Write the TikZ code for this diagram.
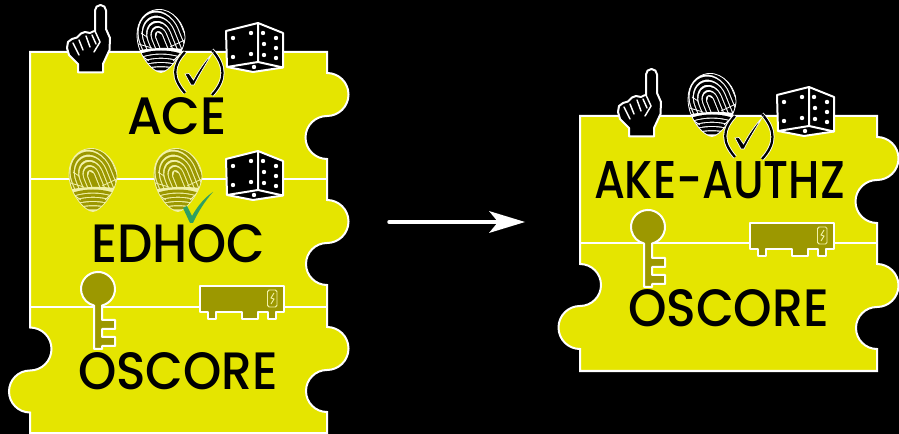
\documentclass[tikz,border=0pt]{standalone}
\usepackage{fontspec}
\setmainfont{Poppins Medium}
\definecolor{puzzle}{HTML}{E5E500}
\definecolor{olive}{HTML}{9C9800}
\definecolor{paleridge}{HTML}{F2F2A8}
\definecolor{okgreen}{HTML}{2F9F62}
\newlength{\pxu}\setlength{\pxu}{0.75pt}
\newcommand{\logotext}[3]{\resizebox{#1\pxu}{#2\pxu}{#3}}
\tikzset{
  x=0.75pt,y=-0.75pt,
  piece/.style={fill=puzzle,draw=white,line width=1.5pt},
  divider/.style={draw=white,line width=1.5pt},
  label/.style={inner sep=0pt,outer sep=0pt,anchor=north west,text=black},
  ridgeblack/.style={draw=black,line width=2.25pt,line cap=butt},
  gapblack/.style={draw=white,line width=0.6pt},
  ridgeolive/.style={draw=olive,line width=2.25pt,line cap=butt},
  gapolive/.style={draw=paleridge,line width=0.6pt},
  iconline/.style={draw=white,line width=1.5pt,line join=round},
  handicon/.pic={
    \draw[iconline,fill=black,line join=round] (95,31) -- (95,10.5) arc[start angle=180,end angle=360,radius=5.5] -- (106,29) -- (110,38) -- (109.5,50) -- (103,64) -- (103,72.5) -- (78,72.5) -- (78,64) -- (69,55) -- (67,48) -- (68,42) -- (72,39) -- (77,37.5) -- (81,33.5) -- (85,32) -- (90,33) -- (93,31.5) -- cycle;
    \draw[white,line width=1.1pt,line cap=round] (73,43) -- (76,49) -- (79,55)
      (79,40) -- (83,50) (86,36) -- (90,47) (92,35) -- (96,44);
    \draw[white,line width=1.1pt,line cap=round] (95,31) -- (100,42) -- (94,52);
  },
  diceicon/.pic={
    \draw[iconline,fill=black] (226,31) -- (258,23) -- (283,33) -- (283,67.5) -- (253,72) -- (227,67) -- cycle;
    \draw[iconline] (258,23) -- (258,62) (227,67) -- (258,62) -- (283,67.5);
    \foreach \px/\py in {233/38,251/33,233/57,251/54,263/33,276/38,264/44,276/48,264/55,276/58,254/67}
      \fill[white] (\px,\py) circle[radius=2.2];
  },
  printicon/.pic={
    \begin{scope}
      \clip (-4,-31.5) .. controls (12,-33) and (24,-16) .. (24,-4) .. controls (24,10) and (8,31.5) .. (0,31.5) .. controls (-8,31.5) and (-24,14) .. (-24,-6) .. controls (-24,-20) and (-16,-30) .. (-4,-31.5);
      \fill[gaplight] (-30,-36) rectangle (30,36);
      \begin{scope}[rotate=22]
        \foreach \r in {1.5,5.7,9.9,14.1,18.3,22.5,26.7}
          \draw[ridge] (-\r,30) -- (-\r,-5) arc[start angle=180,end angle=360,x radius=\r,y radius=1.25*\r] -- (\r,30);
      \end{scope}
      \fill[gaplight] (-30,38) -- (-30,11) .. controls (-10,6) and (10,6) .. (30,9) -- (30,38) -- cycle;
      \foreach \yy in {13.5,17.7,21.9,26.1,30.3}
        \draw[ridge] (-24,\yy+2) .. controls (-8,\yy-4) and (8,\yy-4) .. (24,\yy+2);
      \draw[gap] (-26,2) -- (-9,7);
      \draw[gap] (26,-2) -- (9,6);
      \draw[gap] (-20,-8) -- (-14,-4);
      \draw[gap] (-22,13) -- (-12,20);
      \draw[gap] (22,10) -- (12,20);
    \end{scope}
    \draw[gap] (-4,-31.5) .. controls (12,-33) and (24,-16) .. (24,-4) .. controls (24,10) and (8,31.5) .. (0,31.5) .. controls (-8,31.5) and (-24,14) .. (-24,-6) .. controls (-24,-20) and (-16,-30) .. (-4,-31.5);
  },
  blackprint/.style={ridge/.style=ridgeblack,gap/.style=gapblack,gaplight/.style={fill=white}},
  oliveprint/.style={ridge/.style=ridgeolive,gap/.style=gapolive,gaplight/.style={fill=paleridge}},
  checkicon/.pic={
    \foreach \w/\c in {3/white,1.7/black}{
      \draw[\c,line width=\w pt] (185,52) .. controls (172,66) and (172,78) .. (185,93);
      \draw[\c,line width=\w pt] (212,50) .. controls (226,66) and (226,80) .. (212,95);
    }
    \draw[fill=black,draw=white,line width=0.5pt] (185,74) -- (189,73.5) -- (193.5,80) .. controls (199,70) and (205,61) .. (212,54) .. controls (206,64) and (199,75) .. (194,85) -- (191,85) -- cycle;
  },
  keyicon/.pic={
    \draw[iconline,fill=olive] (102,305.5) arc[start angle=76.4,end angle=-256.4,radius=17] -- (94,349) -- (102,349) -- (102,346) -- (115,346) -- (115,337) -- (102,337) -- (102,329) -- (115,329) -- (115,320) -- (102,320) -- cycle;
  },
  boxicon/.pic={
    \draw[iconline,fill=olive] (200,286) -- (284,286) -- (284,312) -- (276,312) -- (276,319.5) -- (268,319.5) -- (268,312) -- (258,312) -- (258,319.5) -- (242,319.5) -- (242,312) -- (216,312) -- (216,319.5) -- (208,319.5) -- (208,312) -- (200,312) -- cycle;
    \draw[paleridge,line width=0.7pt,rounded corners=1.2pt] (267.5,290) rectangle (277,307);
    \draw[paleridge,line width=0.7pt] (274,293) -- (271,298) -- (274,299) -- (271,304);
  },
}
\begin{document}
\begin{tikzpicture}
\useasboundingbox[fill=black] (0,0) rectangle (899,434);

% left stack
\draw[piece] (30,52) -- (327,52) -- (327,73)
  arc[start angle=-90,end angle=90,radius=21.5]
  arc[start angle=-90,end angle=-270,radius=21.5] -- (327,200)
  arc[start angle=-90,end angle=90,radius=21.5]
  arc[start angle=-90,end angle=-270,radius=21] -- (327,327)
  arc[start angle=-90,end angle=90,radius=21.5]
  arc[start angle=-90,end angle=-270,radius=21] -- (327,433) -- (30,433) -- (30,412.5)
  arc[start angle=90,end angle=270,radius=21]
  arc[start angle=90,end angle=-90,radius=21.5] -- cycle;
\draw[divider] (30,179) -- (327,179);
\draw[divider] (30,307) -- (327,307);

% right stack
\draw[piece] (580,116) -- (877,116) -- (877,137)
  arc[start angle=-90,end angle=90,radius=21.5]
  arc[start angle=-90,end angle=-270,radius=21.5] -- (877,264)
  arc[start angle=-90,end angle=90,radius=21.5]
  arc[start angle=-90,end angle=-270,radius=21] -- (877,371) -- (580,371) -- (580,349)
  arc[start angle=90,end angle=270,radius=21.5]
  arc[start angle=90,end angle=-90,radius=21] -- cycle;
\draw[divider] (580,243) -- (877,243);

% icons of the left stack
\pic at (0,0) {handicon};
\pic[blackprint] at (161,41) {printicon};
\pic at (0,0) {diceicon};
\pic at (0,0) {checkicon};
\pic[oliveprint] at (93,180) {printicon};
\pic[oliveprint] at (178,180) {printicon};
\pic at (0,128) {diceicon};
\fill[okgreen] (183,208) -- (187,206) -- (192,216) .. controls (197,207) and (204,198) .. (213,192) .. controls (205,201) and (198,212) .. (193,223) -- (190,223) -- cycle;
\pic at (0,0) {keyicon};
\pic at (0,0) {boxicon};

% icons of the right stack
\pic at (551,64) {handicon};
\pic[blackprint] at (712,105) {printicon};
\pic at (551,64) {diceicon};
\pic at (550,64) {checkicon};
\pic at (550,-62) {keyicon};
\pic at (550,-63) {boxicon};

% labels
\node[label] (ace) at (127,97) {\logotext{100}{37}{ACE}};
\node[label] (edhoc) at (91,224) {\logotext{174}{38}{EDHOC}};
\node[label] (oscoreleft) at (78,352) {\logotext{200}{37}{OSCORE}};
\node[label] (akeauthz) at (594,161) {\logotext{251}{37}{AKE-AUTHZ}};
\node[label] (oscoreright) at (628,289) {\logotext{201}{37}{OSCORE}};

% arrow
\coordinate (arrowfrom) at (389,222);
\coordinate (arrowto) at (525,222);
\coordinate (arrowbase) at (500,222);
\draw[white,line width=2.6pt,line cap=round] (arrowfrom) -- (arrowbase);
\fill[white] (arrowto) -- (489,211) -- (498,222) -- (489,233) -- cycle;
\end{tikzpicture}
\end{document}
